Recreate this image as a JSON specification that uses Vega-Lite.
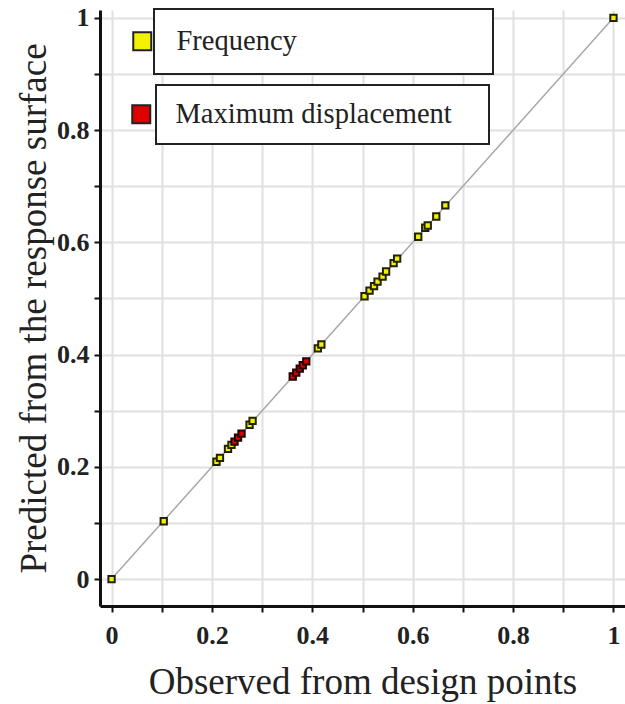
{
  "$schema": "https://vega.github.io/schema/vega-lite/v6.json",
  "width": 525,
  "height": 596,
  "autosize": {"type": "none"},
  "padding": {"left": 100, "top": 10, "right": 0, "bottom": 98},
  "background": "white",
  "config": {
    "view": {"stroke": null},
    "axis": {
      "grid": true,
      "gridColor": "#e0e0e0",
      "gridWidth": 2,
      "domainColor": "#111111",
      "domainWidth": 3,
      "tickColor": "#111111",
      "tickWidth": 2,
      "tickSize": 6,
      "labelFont": "Liberation Serif",
      "labelFontSize": 26,
      "labelFontWeight": "bold",
      "labelColor": "#222222",
      "titleFont": "Liberation Serif",
      "titleFontSize": 37,
      "titleFontWeight": "normal",
      "titleColor": "#222222"
    },
    "legend": {
      "strokeColor": "#222222",
      "strokeWidth": 2,
      "fillColor": "white",
      "padding": 16,
      "symbolType": "square",
      "symbolSize": 324,
      "symbolStrokeColor": "#222222",
      "symbolStrokeWidth": 2,
      "symbolOffset": -44,
      "labelFont": "Liberation Serif",
      "labelFontSize": 28.5,
      "labelColor": "#222222",
      "labelOffset": 20,
      "labelLimit": 600
    }
  },
  "layer": [
    {
      "data": {"values": [{"observed": 0, "predicted": 0}, {"observed": 1, "predicted": 1}]},
      "mark": {"type": "line", "color": "#a8a8a8", "strokeWidth": 1.5},
      "encoding": {
        "x": {
          "field": "observed", "type": "quantitative",
          "scale": {"domain": [-0.023, 1.023], "nice": false, "zero": false},
          "axis": {
            "values": [0, 0.1, 0.2, 0.3, 0.4, 0.5, 0.6, 0.7, 0.8, 0.9, 1],
            "labelExpr": "round(datum.value * 10) % 2 == 0 ? format(datum.value, '~g') : ''",
            "labelPadding": 10,
            "title": "Observed from design points",
            "titlePadding": 16
          }
        },
        "y": {
          "field": "predicted", "type": "quantitative",
          "scale": {"domain": [-0.048, 1.014], "nice": false, "zero": false},
          "axis": {
            "values": [0, 0.1, 0.2, 0.3, 0.4, 0.5, 0.6, 0.7, 0.8, 0.9, 1],
            "labelExpr": "round(datum.value * 10) % 2 == 0 ? format(datum.value, '~g') : ''",
            "labelPadding": 5,
            "title": "Predicted from the response surface",
            "titlePadding": 3
          }
        }
      }
    },
    {
      "data": {"values": [
        {"series": "Frequency", "observed": 0, "predicted": 0},
        {"series": "Frequency", "observed": 0.104, "predicted": 0.103},
        {"series": "Frequency", "observed": 0.209, "predicted": 0.209},
        {"series": "Frequency", "observed": 0.216, "predicted": 0.216},
        {"series": "Frequency", "observed": 0.232, "predicted": 0.232},
        {"series": "Frequency", "observed": 0.239, "predicted": 0.239},
        {"series": "Frequency", "observed": 0.275, "predicted": 0.275},
        {"series": "Frequency", "observed": 0.281, "predicted": 0.282},
        {"series": "Frequency", "observed": 0.411, "predicted": 0.411},
        {"series": "Frequency", "observed": 0.418, "predicted": 0.418},
        {"series": "Frequency", "observed": 0.504, "predicted": 0.504},
        {"series": "Frequency", "observed": 0.514, "predicted": 0.514},
        {"series": "Frequency", "observed": 0.523, "predicted": 0.522},
        {"series": "Frequency", "observed": 0.530, "predicted": 0.530},
        {"series": "Frequency", "observed": 0.540, "predicted": 0.539},
        {"series": "Frequency", "observed": 0.547, "predicted": 0.548},
        {"series": "Frequency", "observed": 0.562, "predicted": 0.563},
        {"series": "Frequency", "observed": 0.569, "predicted": 0.571},
        {"series": "Frequency", "observed": 0.611, "predicted": 0.610},
        {"series": "Frequency", "observed": 0.625, "predicted": 0.626},
        {"series": "Frequency", "observed": 0.630, "predicted": 0.630},
        {"series": "Frequency", "observed": 0.647, "predicted": 0.646},
        {"series": "Frequency", "observed": 0.665, "predicted": 0.666},
        {"series": "Frequency", "observed": 1, "predicted": 1}
      ]},
      "mark": {"type": "point", "shape": "square", "filled": true, "size": 40, "stroke": "#222200", "strokeWidth": 2, "opacity": 1},
      "encoding": {
        "x": {"field": "observed", "type": "quantitative"},
        "y": {"field": "predicted", "type": "quantitative"},
        "fill": {
          "field": "series", "type": "nominal",
          "scale": {"range": ["#f2f200"]},
          "legend": {
            "orient": "none", "legendX": 54, "legendY": -1, "title": null, "padding": 18,
            "labelExpr": "datum.label + '\u00a0\u00a0\u00a0\u00a0\u00a0\u00a0\u00a0\u00a0\u00a0\u00a0\u00a0\u00a0\u00a0\u00a0\u00a0\u00a0\u00a0\u00a0\u00a0\u00a0\u00a0\u00a0\u00a0\u00a0\u00a0\u200b'"
          }
        }
      }
    },
    {
      "data": {"values": [
        {"series": "Maximum displacement", "observed": 0.245, "predicted": 0.245},
        {"series": "Maximum displacement", "observed": 0.252, "predicted": 0.252},
        {"series": "Maximum displacement", "observed": 0.259, "predicted": 0.259},
        {"series": "Maximum displacement", "observed": 0.361, "predicted": 0.361},
        {"series": "Maximum displacement", "observed": 0.368, "predicted": 0.368},
        {"series": "Maximum displacement", "observed": 0.375, "predicted": 0.375},
        {"series": "Maximum displacement", "observed": 0.381, "predicted": 0.381},
        {"series": "Maximum displacement", "observed": 0.388, "predicted": 0.388}
      ]},
      "mark": {"type": "point", "shape": "square", "filled": true, "size": 40, "stroke": "#220000", "strokeWidth": 2, "opacity": 1},
      "encoding": {
        "x": {"field": "observed", "type": "quantitative"},
        "y": {"field": "predicted", "type": "quantitative"},
        "fill": {
          "field": "series", "type": "nominal",
          "scale": {"range": ["#e00000"]},
          "legend": {
            "orient": "none", "legendX": 56, "legendY": 75, "title": null, "padding": 15,
            "labelExpr": "datum.label + '\u00a0\u00a0\u00a0\u200b'"
          }
        }
      }
    }
  ],
  "resolve": {"scale": {"fill": "independent"}, "legend": {"fill": "independent"}}
}
